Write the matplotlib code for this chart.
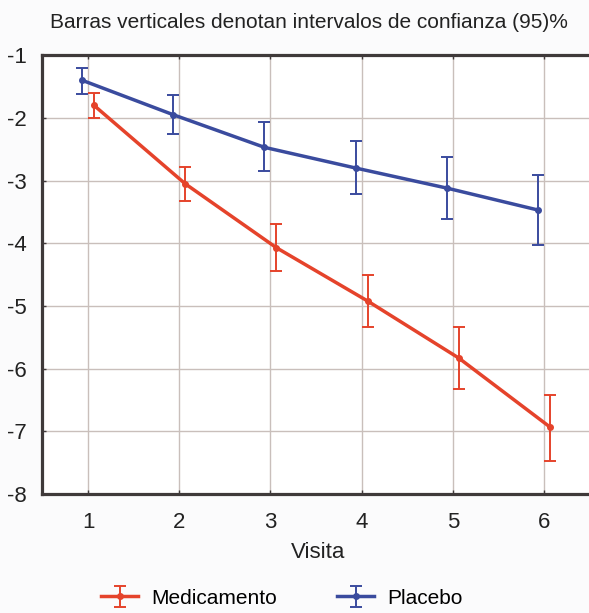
import matplotlib
matplotlib.use("Agg")
import matplotlib.pyplot as plt
import numpy as np

visitas = [1, 2, 3, 4, 5, 6]
med_mean = [-1.80, -3.05, -4.07, -4.92, -5.83, -6.93]
med_upper = [-1.60, -2.78, -3.70, -4.50, -5.33, -6.42]
med_lower = [-2.00, -3.32, -4.45, -5.33, -6.33, -7.48]
pla_mean = [-1.40, -1.95, -2.47, -2.80, -3.12, -3.47]
pla_upper = [-1.20, -1.63, -2.07, -2.37, -2.63, -2.91]
pla_lower = [-1.62, -2.25, -2.85, -3.22, -3.62, -4.03]
yticks = [-1, -2, -3, -4, -5, -6, -7, -8]

plt.rcParams['font.family'] = ['Liberation Sans', 'DejaVu Sans']

fig = plt.figure(figsize=(5.89, 6.13), dpi=100)
fig.patch.set_facecolor('#fbfbfc')
ax = fig.add_axes([0.072, 0.194, 0.929, 0.716])
ax.set_facecolor('white')

red = '#e5432b'
blue = '#3a4b9e'
off = 0.065

x = np.array(visitas, dtype=float)
mm = np.array(med_mean); pm = np.array(pla_mean)
med_err = [mm - np.array(med_lower), np.array(med_upper) - mm]
pla_err = [pm - np.array(pla_lower), np.array(pla_upper) - pm]

h1 = ax.errorbar(x + off, mm, yerr=med_err, color=red, lw=2.5, marker='o', ms=4,
                 elinewidth=1.4, capsize=4, capthick=1.4, label='Medicamento', zorder=3)
h2 = ax.errorbar(x - off, pm, yerr=pla_err, color=blue, lw=2.5, marker='o', ms=4,
                 elinewidth=1.4, capsize=4, capthick=1.4, label='Placebo', zorder=3)

ax.set_xlim(0.5, 6.5)
ax.set_ylim(-8, -1)
ax.set_xticks(visitas)
ax.set_yticks(yticks)
ax.set_yticklabels([str(v) for v in yticks])
ax.grid(True, color='#c9bfbb', lw=1.0)
ax.set_axisbelow(True)
for s in ['left', 'bottom', 'top']:
    ax.spines[s].set_color('#3f3a3a')
    ax.spines[s].set_linewidth(2.3)
ax.spines['right'].set_visible(False)
ax.tick_params(axis='both', direction='in', length=3, width=1, color='#3f3a3a',
               labelsize=16, colors='#222222')
ax.tick_params(axis='x', pad=13, top=True)
ax.tick_params(axis='y', pad=11)
for lbl in ax.get_xticklabels() + ax.get_yticklabels():
    lbl.set_color('#222222')

fig.text(0.525, 1 - 22 / 613, 'Barras verticales denotan intervalos de confianza (95)%',
         ha='center', va='center', fontsize=15, color='#222222')
fig.text(0.54, 1 - 553 / 613, 'Visita', ha='center', va='center', fontsize=16,
         color='#222222')

fig.legend(handles=[h1, h2], labels=['Medicamento', 'Placebo'], loc='center',
           bbox_to_anchor=(0.478, 1 - 598 / 613), ncol=2, frameon=False,
           fontsize=15, handlelength=1.8, columnspacing=2.9, handletextpad=0.6)

fig.savefig('out.png', dpi=100, facecolor=fig.get_facecolor())
